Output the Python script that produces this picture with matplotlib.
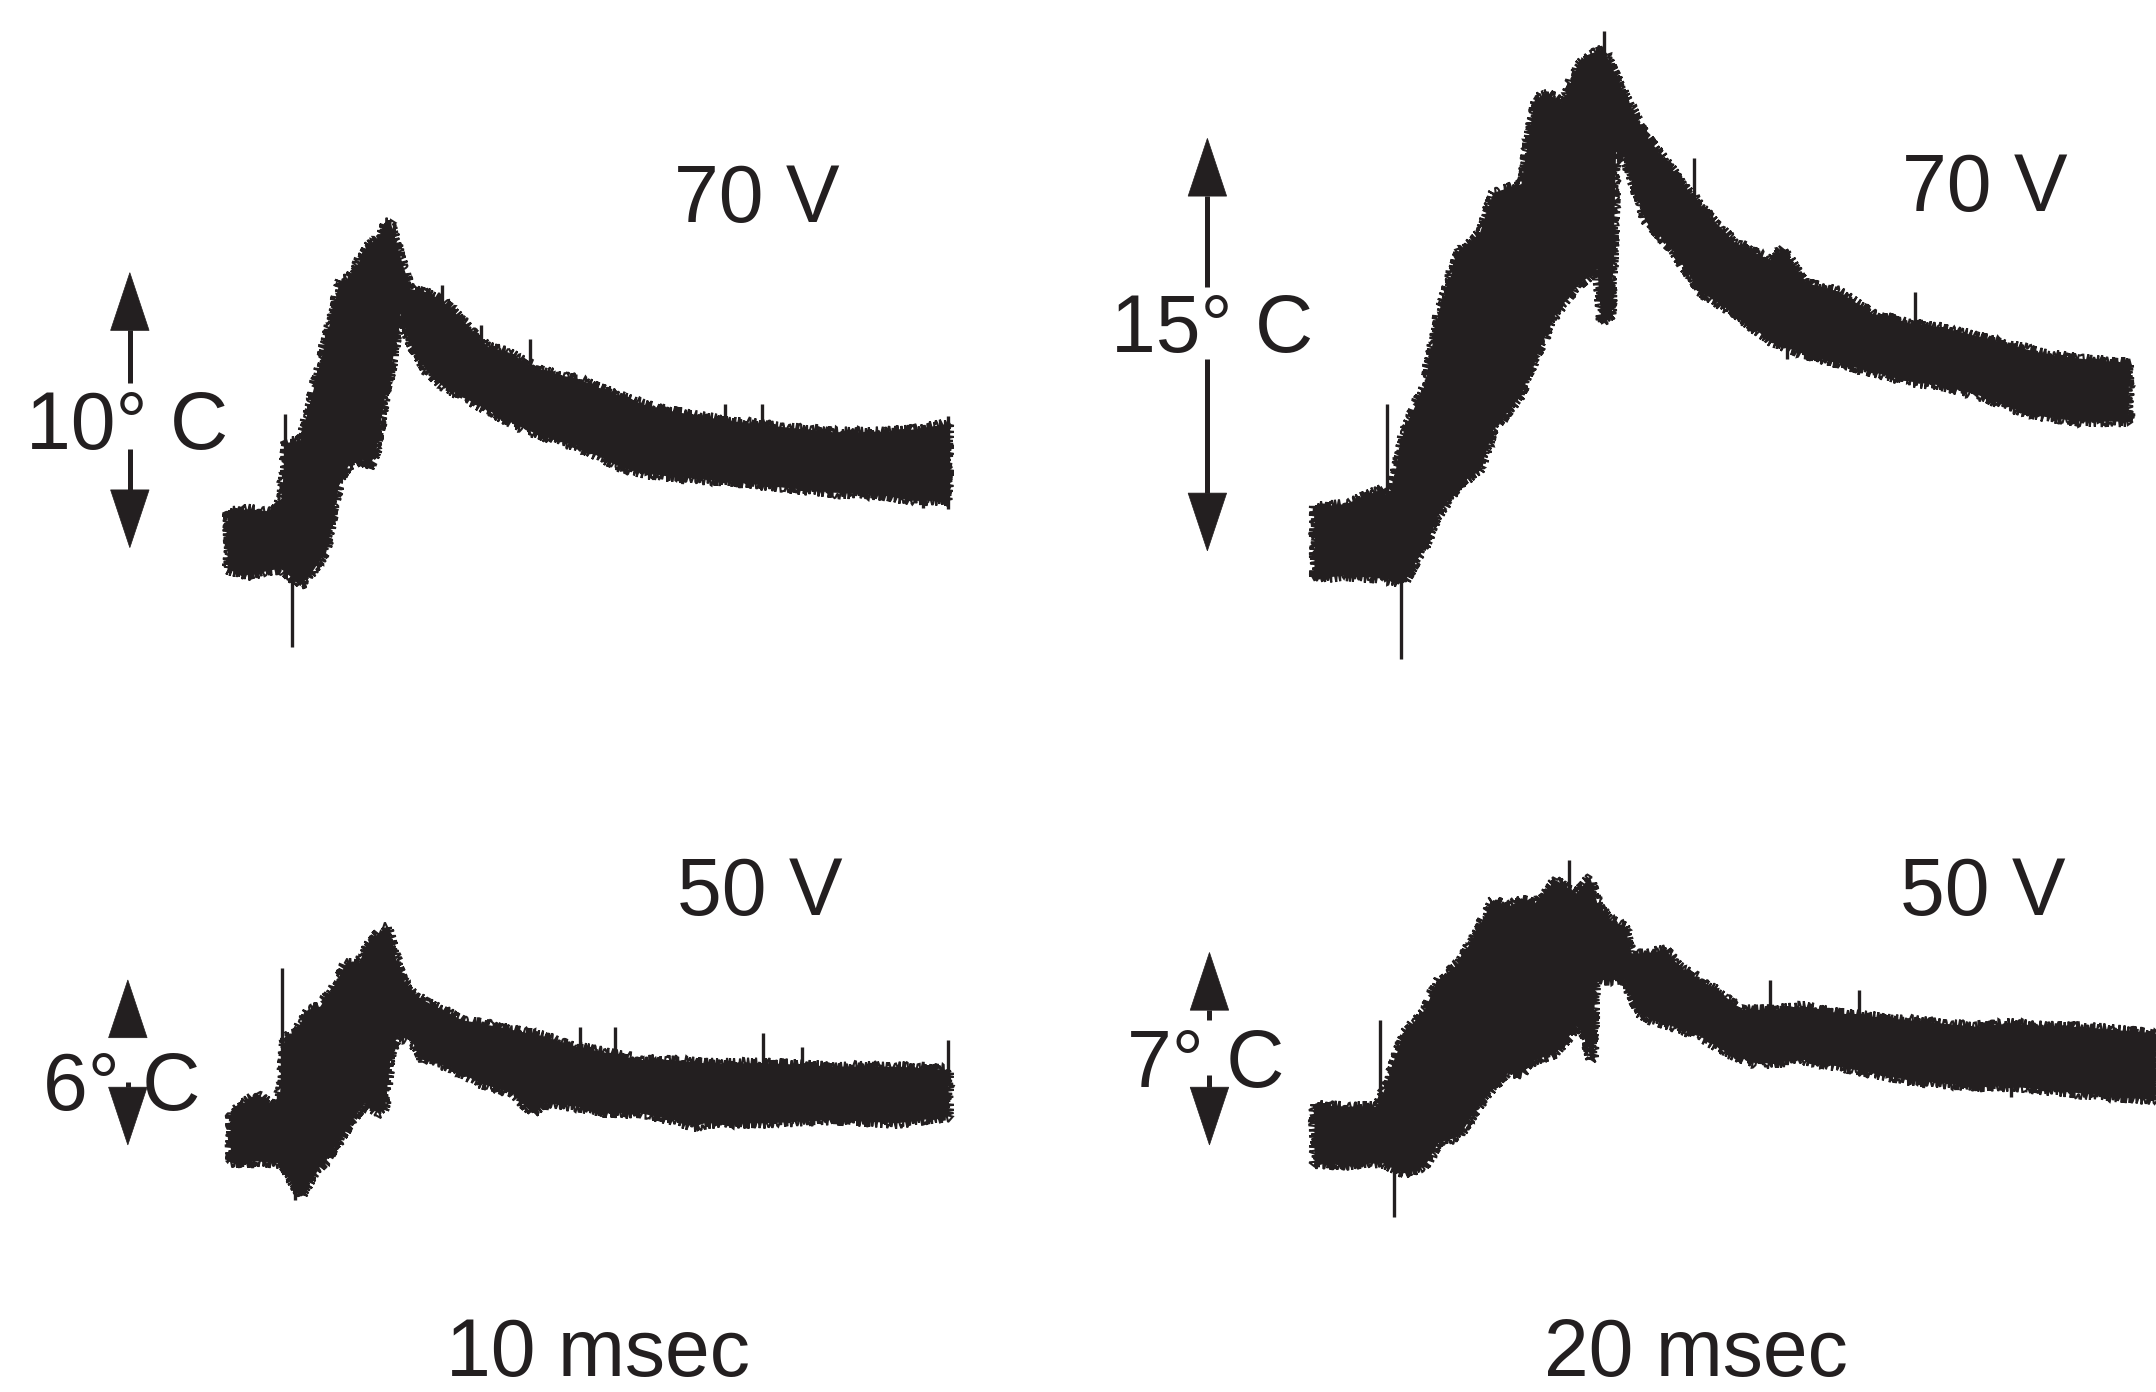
import matplotlib
matplotlib.use("Agg")
import matplotlib.pyplot as plt
from matplotlib.patches import Polygon
import numpy as np

# ---------------- data (time in ms from trace start, temperature change in deg C) -------------
# Top-left: 10 msec pulse, 70 V
tl_up_t = [0.0, 2.0, 4.5, 5.2, 5.6, 7.0, 8.3, 9.5, 10.8, 11.7, 13.6, 14.6, 15.1, 15.7, 16.6, 17.6, 19.0,
           20.6, 22.5, 25.0, 27.0, 29.3, 31.5, 33.6, 35.8, 37.9, 40.0, 42.2, 45.0, 48.4, 53.0, 58.2,
           63.0, 66.0, 69.3]
tl_up = [1.0, 1.1, 1.0, 1.5, 3.5, 3.6, 5.5, 7.3, 9.4, 9.5, 10.7, 11.0, 11.5, 11.5, 10.3, 9.1, 9.0,
         8.7, 8.0, 7.0, 6.8, 6.3, 6.0, 5.85, 5.5, 5.2, 4.9, 4.7, 4.5, 4.3, 4.1, 3.9,
         3.9, 4.0, 4.2]
tl_lo_t = [0.0, 2.0, 4.5, 5.2, 5.6, 7.0, 8.3, 9.5, 10.8, 11.7, 13.0, 13.6, 14.3, 15.1, 15.7, 16.6,
           17.6, 19.0, 20.6, 22.5, 25.0, 27.0, 29.3, 31.5, 33.6, 35.8, 37.9, 40.0, 42.2, 45.0, 48.4,
           53.0, 58.2, 63.0, 66.0, 69.3]
tl_lo = [-1.1, -1.3, -1.1, -1.1, -1.2, -1.7, -1.1, -0.4, 2.2, 2.7, 2.9, 2.6, 3.2, 5.1, 6.1, 8.2,
         7.1, 6.2, 5.6, 5.2, 4.7, 4.3, 3.9, 3.6, 3.4, 3.0, 2.6, 2.4, 2.3, 2.2, 2.1,
         1.9, 1.7, 1.6, 1.4, 1.4]
tl_spk_t = [5.5, 6.2, 20.6, 24.4, 29.1, 47.8, 51.4, 66.9, 69.3]
tl_spk_hi = [4.55, 3.0, 9.25, 7.8, 7.3, 4.94, 4.94, 2.5, 4.5]
tl_spk_lo = [1.0, -3.93, 8.0, 6.5, 6.0, 3.5, 3.5, 1.15, 1.1]

# Top-right: 20 msec pulse, 70 V
tr_up_t = [0.0, 3.0, 6.6, 7.2, 8.6, 10.6, 11.9, 13.9, 15.9, 17.2, 19.9, 21.2, 22.5, 23.9, 25.2, 26.5,
           27.8, 29.8, 31.8, 33.8, 37.1, 40.4, 43.8, 45.1, 47.1, 50.4, 53.7, 57.0, 60.3, 63.7, 67.0,
           70.3, 73.6, 78.3]
tr_up = [1.3, 1.4, 1.96, 1.5, 4.08, 5.71, 8.32, 10.6, 11.25, 12.72, 13.04, 16.14, 16.31, 15.98, 17.28,
         17.77, 17.94, 16.31, 14.84, 13.86, 12.23, 10.92, 10.27, 10.68, 9.46, 9.13, 8.32, 7.99, 7.83,
         7.5, 7.17, 6.85, 6.69, 6.52]
tr_lo_t = [0.0, 3.0, 6.6, 8.6, 10.6, 11.9, 13.9, 15.9, 17.2, 19.9, 21.2, 23.2, 25.2, 27.2, 27.6, 28.6,
           29.0, 29.8, 31.8, 34.5, 37.1, 40.4, 43.8, 47.1, 50.4, 53.7, 57.0, 60.3, 63.7, 67.0, 70.3,
           73.6, 78.3]
tr_lo = [-1.31, -1.2, -1.31, -1.47, -0.16, 0.98, 2.12, 2.61, 4.08, 5.38, 6.69, 8.32, 9.29, 9.95, 7.99,
         8.3, 14.2, 14.0, 11.74, 10.6, 9.13, 8.32, 7.34, 6.85, 6.52, 6.2, 5.87, 5.71, 5.38, 4.89, 4.57,
         4.4, 4.4]
tr_spk_t = [6.96, 8.3, 27.8, 36.5, 57.7, 45.4]
tr_spk_hi = [5.05, 0.0, 18.6, 14.0, 9.13, 8.0]
tr_spk_lo = [1.0, -4.24, 16.0, 12.0, 7.5, 6.69]

# Bottom-left: 10 msec pulse, 50 V
bl_up_t = [0.0, 2.5, 4.6, 5.2, 6.2, 7.4, 8.6, 9.9, 11.1, 12.3, 13.2, 14.2, 15.1, 16.0, 16.6, 17.9,
           19.7, 21.0, 22.2, 24.0, 27.1, 30.2, 33.3, 36.4, 39.4, 42.5, 45.6, 51.8, 57.9, 64.1, 69.0]
bl_up = [0.85, 1.58, 0.97, 3.64, 3.76, 4.61, 4.73, 5.45, 6.3, 6.3, 7.03, 7.4, 7.64, 6.3, 5.7, 5.09,
         4.73, 4.49, 4.24, 4.12, 3.88, 3.64, 3.27, 3.03, 2.79, 2.79, 2.67, 2.67, 2.55, 2.55, 2.43]
bl_lo_t = [0.0, 2.5, 4.9, 5.2, 6.8, 8.0, 9.2, 10.5, 11.7, 12.9, 14.2, 14.8, 15.4, 16.0, 17.3, 18.5,
           21.0, 24.0, 27.1, 29.0, 30.2, 33.3, 36.4, 39.4, 42.5, 44.5, 45.6, 51.8, 57.9, 64.1, 69.0]
bl_lo = [-0.97, -0.9, -0.97, -1.2, -2.18, -1.33, -0.85, -0.12, 0.61, 1.21, 0.85, 0.97, 3.03, 3.64,
         3.52, 2.79, 2.55, 1.94, 1.58, 0.85, 1.21, 1.09, 0.85, 0.85, 0.61, 0.36, 0.49, 0.49, 0.61,
         0.49, 0.73]
bl_spk_t = [4.93, 6.2, 33.6, 36.97, 51.2, 54.9, 69.0]
bl_spk_hi = [6.12, 0.0, 4.0, 4.0, 3.76, 3.27, 3.52]
bl_spk_lo = [0.0, -2.3, 3.0, 2.8, 2.5, 2.5, 2.4]

# Bottom-right: 20 msec pulse, 50 V
br_up_t = [0.0, 3.0, 6.0, 6.6, 8.6, 10.6, 11.9, 13.9, 15.3, 17.2, 18.6, 19.9, 21.2, 23.2, 25.2, 26.5,
           27.2, 28.5, 29.8, 30.5, 31.8, 33.8, 35.1, 37.1, 39.1, 41.1, 43.8, 47.1, 50.4, 53.7, 57.0,
           60.3, 63.7, 67.0, 70.3, 73.6, 76.9, 80.9]
br_up = [1.15, 1.1, 1.09, 1.58, 3.76, 4.61, 5.7, 6.3, 7.27, 8.61, 8.36, 8.61, 8.49, 9.33, 8.85, 9.45,
         8.49, 7.88, 7.64, 6.67, 6.67, 6.79, 6.18, 5.7, 5.21, 4.61, 4.61, 4.73, 4.49, 4.36, 4.24,
         4.12, 4.0, 4.12, 4.0, 4.0, 3.88, 3.76]
br_lo_t = [0.0, 3.0, 6.0, 6.6, 8.6, 10.6, 11.9, 13.9, 15.3, 17.2, 18.6, 19.9, 21.2, 23.2, 25.2, 26.2,
           26.5, 26.8, 27.0, 29.8, 31.2, 32.5, 34.5, 37.1, 39.8, 42.4, 43.8, 47.1, 50.4, 53.7, 57.0,
           60.3, 63.7, 67.0, 70.3, 73.6, 76.9, 80.9]
br_lo = [-0.97, -1.05, -0.97, -0.97, -1.33, -1.09, -0.24, 0.0, 0.85, 1.82, 2.3, 2.3, 2.79, 3.03, 4.0,
         3.6, 2.79, 2.9, 5.7, 5.7, 4.49, 4.24, 4.0, 3.64, 3.03, 2.67, 2.67, 2.79, 2.55, 2.3, 2.06,
         1.94, 1.82, 1.82, 1.7, 1.58, 1.45, 1.33]
br_spk_t = [6.3, 7.6, 24.5, 43.8, 52.4, 67.0]
br_spk_hi = [4.24, 0.0, 10.06, 5.7, 5.33, 2.5]
br_spk_lo = [0.0, -2.91, 8.5, 4.2, 4.0, 1.45]

# scale bars (deg C) and labels
bar_values = [10, 15, 6, 7]
bar_labels = ["10° C", "15° C", "6° C", "7° C"]
volt_labels = ["70 V", "70 V", "50 V", "50 V"]
dur_labels = ["10 msec", "20 msec"]

# ---------------- layout ----------------
W, H = 2156, 1392
SX, SY = 10.4, 27.5           # pixels per ms, pixels per deg C
INK = "#231f20"
FONT = ["Liberation Sans", "DejaVu Sans"]
FS = 58

fig = plt.figure(figsize=(W / 100, H / 100), dpi=100)
fig.patch.set_facecolor("white")


def panel_axes(X0, Y0):
    ax = fig.add_axes([0, 0, 1, 1])
    ax.set_xlim(-X0 / SX, (W - X0) / SX)
    ax.set_ylim((Y0 - H) / SY, Y0 / SY)
    ax.axis("off")
    ax.patch.set_alpha(0)
    return ax


def draw_trace(ax, ut, u, lt, l, st, sh, sl):
    xs = np.concatenate([np.asarray(ut), np.asarray(lt)[::-1]])
    ys = np.concatenate([np.asarray(u), np.asarray(l)[::-1]])
    # solid core of the noisy trace
    ax.fill(xs, ys, color=INK, lw=0, ec="none")
    # ragged outline of the same envelope (scan-like edge), drawn with a sketch style
    outline = ax.fill(xs, ys, fc="none", ec=INK, lw=1.5, joinstyle="miter")[0]
    outline.set_sketch_params(scale=5.5, length=2.0, randomness=2.0)
    ax.vlines(st, sl, sh, color=INK, lw=2.4)


def draw_bar(ax, x, length, gap_lo, gap_hi, hl=2.1, hw=1.85):
    bot = -0.3
    top = bot + length
    if gap_lo > bot + hl:
        ax.plot([x, x], [bot + hl, gap_lo], color=INK, lw=3.6, solid_capstyle="butt")
    if gap_hi < top - hl:
        ax.plot([x, x], [gap_hi, top - hl], color=INK, lw=3.6, solid_capstyle="butt")
    ax.add_patch(Polygon([[x, top], [x - hw, top - hl], [x + hw, top - hl]], closed=True,
                         fc=INK, ec=INK, lw=0.5))
    ax.add_patch(Polygon([[x, bot], [x - hw, bot + hl], [x + hw, bot + hl]], closed=True,
                         fc=INK, ec=INK, lw=0.5))


panels = [
    dict(X0=227.6, Y0=539.4, data=(tl_up_t, tl_up, tl_lo_t, tl_lo, tl_spk_t, tl_spk_hi, tl_spk_lo),
         barx=-9.4, gap=(3.29, 5.68)),
    dict(X0=1314.5, Y0=542.6, data=(tr_up_t, tr_up, tr_lo_t, tr_lo, tr_spk_t, tr_spk_hi, tr_spk_lo),
         barx=-10.3, gap=(6.67, 9.31)),
    dict(X0=230.8, Y0=1136.7, data=(bl_up_t, bl_up, bl_lo_t, bl_lo, bl_spk_t, bl_spk_hi, bl_spk_lo),
         barx=-9.9, gap=(2.0, 3.59)),
    dict(X0=1314.5, Y0=1136.7, data=(br_up_t, br_up, br_lo_t, br_lo, br_spk_t, br_spk_hi, br_spk_lo),
         barx=-10.1, gap=(2.24, 4.24)),
]

for i, p in enumerate(panels):
    ax = panel_axes(p["X0"], p["Y0"])
    draw_trace(ax, *p["data"])
    draw_bar(ax, p["barx"], bar_values[i], *p["gap"])

# text overlay in pixel coordinates
tax = fig.add_axes([0, 0, 1, 1])
tax.set_xlim(0, W)
tax.set_ylim(H, 0)
tax.axis("off")
tax.patch.set_alpha(0)

volt_pos = [(756.7, 221.7), (1985, 211), (759.6, 915), (1983, 915)]
bar_pos = [(127.5, 449), (1212.5, 352.3), (122.0, 1110), (1206, 1086.7)]
dur_pos = [(597.5, 1376), (1695.5, 1376)]

for s, (x, y) in zip(volt_labels, volt_pos):
    tax.text(x, y, s, ha="center", va="baseline", fontsize=FS, family=FONT, color=INK)
for s, (x, y) in zip(bar_labels, bar_pos):
    tax.text(x, y, s, ha="center", va="baseline", fontsize=FS, family=FONT, color=INK)
for s, (x, y) in zip(dur_labels, dur_pos):
    tax.text(x, y, s, ha="center", va="baseline", fontsize=FS, family=FONT, color=INK)

fig.savefig("out.png", dpi=100, facecolor="white")
